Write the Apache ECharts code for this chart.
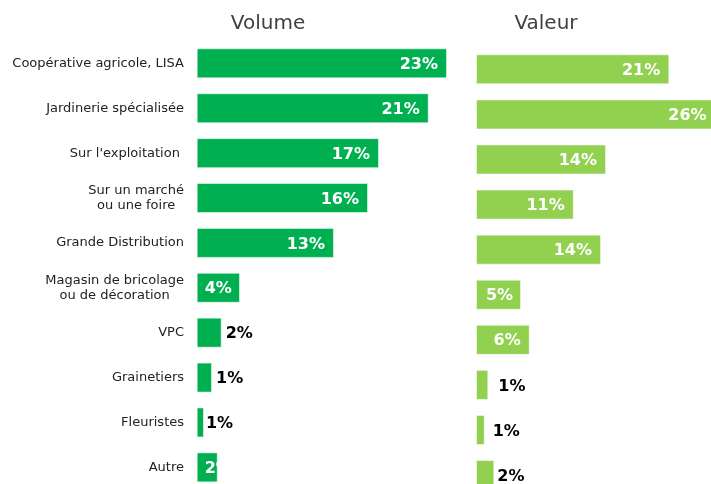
<!DOCTYPE html>
<html>
<head>
<meta charset="utf-8">
<script src="https://cdn.jsdelivr.net/npm/echarts@6/dist/echarts.min.js"></script>
<style>
html,body{margin:0;padding:0;background:#fff;}
#chart{width:711px;height:484px;}
</style>
</head>
<body>
<div id="chart"></div>
<script>
const categories = [
  "Coopérative agricole, LISA",
  "Jardinerie spécialisée",
  "Sur l'exploitation ",
  "Sur un marché\nou une foire",
  "Grande Distribution",
  "Magasin de bricolage\nou de décoration",
  "VPC",
  "Grainetiers",
  "Fleuristes",
  "Autre"
];
const volumeValues = [23.07, 21.38, 16.8, 15.79, 12.65, 3.99, 2.3, 1.41, 0.67, 1.94];
const valeurValues = [21.24, 26.0, 14.29, 10.74, 13.74, 4.95, 5.9, 1.35, 0.96, 2.01];
const titles = ["Volume", "Valeur"];

const FONT = '"DejaVu Sans", Verdana, sans-serif';

// label placement per bar (style only)
const volLabelPos = [
  ['insideRight', 9], ['insideRight', 9], ['insideRight', 9], ['insideRight', 9], ['insideRight', 9],
  ['insideLeft', 8], ['right', 4], ['right', 4], ['right', 2], ['insideLeft', 8]
];
const valLabelPos = [
  ['insideRight', 9], ['insideRight', 6], ['insideRight', 9], ['insideRight', 9], ['insideRight', 9],
  ['insideRight', 8], ['insideRight', 9], ['right', 10], ['right', 8], ['right', 3]
];

function makeData(values, pos) {
  return values.map((v, i) => ({
    value: v,
    label: {
      position: pos[i][0],
      distance: pos[i][1],
      color: pos[i][0] === 'right' ? '#000000' : '#ffffff'
    }
  }));
}

const chart = echarts.init(document.getElementById('chart'), null, {renderer: 'canvas'});

const option = {
  backgroundColor: '#ffffff',
  animation: false,
  title: [
    {text: titles[0], left: 268, top: 14, textAlign: 'center', padding: 0,
     textStyle: {fontFamily: FONT, fontSize: 20, fontWeight: 'normal', color: '#404040'}},
    {text: titles[1], left: 546, top: 14, textAlign: 'center', padding: 0,
     textStyle: {fontFamily: FONT, fontSize: 20, fontWeight: 'normal', color: '#404040'}}
  ],
  grid: [
    {left: 196.7, top: 40.9, width: 271.25, height: 448.9, containLabel: false, outerBoundsMode: 'none'},
    {left: 476, top: 46.8, width: 273, height: 450.8, containLabel: false, outerBoundsMode: 'none'}
  ],
  xAxis: [
    {type: 'value', gridIndex: 0, min: 0, max: 25, show: false},
    {type: 'value', gridIndex: 1, min: 0, max: 30, show: false}
  ],
  yAxis: [
    {type: 'category', gridIndex: 0, data: categories, inverse: true,
     axisLine: {show: false}, axisTick: {show: false}, splitLine: {show: false},
     axisLabel: {
       margin: 12.7, align: 'right', fontFamily: FONT, fontSize: 13, color: '#222222',
       formatter: function (v) {
         return v.split('\n').map(l => '{c|' + l + '}').join('\n');
       },
       rich: {c: {align: 'center', fontFamily: FONT, fontSize: 13, color: '#222222', lineHeight: 15}}
     }},
    {type: 'category', gridIndex: 1, data: categories, inverse: true, show: false}
  ],
  series: [
    {
      type: 'bar', xAxisIndex: 0, yAxisIndex: 0, barWidth: 30,
      data: makeData(volumeValues, volLabelPos),
      itemStyle: {color: '#00B050', borderColor: 'rgba(255,255,255,0.5)', borderWidth: 1},
      label: {show: true, fontFamily: FONT, fontSize: 16, fontWeight: 'bold', offset: [0, 1.5],
        formatter: p => Math.round(p.value) + '%'}
    },
    {
      type: 'bar', xAxisIndex: 1, yAxisIndex: 1, barWidth: 30,
      data: makeData(valeurValues, valLabelPos),
      itemStyle: {color: '#92D050', borderColor: 'rgba(255,255,255,0.5)', borderWidth: 1},
      label: {show: true, fontFamily: FONT, fontSize: 16, fontWeight: 'bold', offset: [0, 1.5],
        formatter: p => Math.round(p.value) + '%'}
    }
  ]
};
chart.setOption(option);
</script>
</body>
</html>
